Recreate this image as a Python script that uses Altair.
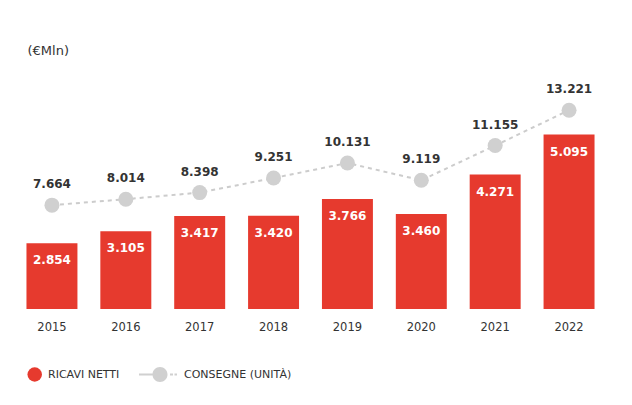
import altair as alt
import pandas as pd

years = ["2015", "2016", "2017", "2018", "2019", "2020", "2021", "2022"]
ricavi = [2854, 3105, 3417, 3420, 3766, 3460, 4271, 5095]
consegne = [7664, 8014, 8398, 9251, 10131, 9119, 11155, 13221]
ricavi_labels = ["2.854", "3.105", "3.417", "3.420", "3.766", "3.460", "4.271", "5.095"]
consegne_labels = ["7.664", "8.014", "8.398", "9.251", "10.131", "9.119", "11.155", "13.221"]
serie = ["RICAVI NETTI", "CONSEGNE (UNITÀ)"]

df = pd.DataFrame({
    "anno": years,
    "ricavi": ricavi,
    "consegne": consegne,
    "lab_r": ricavi_labels,
    "lab_c": consegne_labels,
    "serie_r": [serie[0]] * len(years),
    "serie_c": [serie[1]] * len(years),
})

RED = "#e63a2e"
GRAY = "#d0d0d0"
LINE_GRAY = "#cccccc"
DARK = "#333333"
FONT = "DejaVu Sans"

# legend glyph: solid line, circle, two dashes (filled shapes, unit = symbol radius)
LEG_PATH = ("M-4.571,-0.143H-2.643V0.143H-4.571Z"
            "M-0.143,-0.143H0.286V0.143H-0.143Z"
            "M0.5,-0.143H0.857V0.143H0.5Z"
            "M-2.643,0A1.071,1.071,0,1,1,-0.5,0A1.071,1.071,0,1,1,-2.643,0Z")

x = alt.X(
    "anno:N", sort=years,
    scale=alt.Scale(paddingInner=0.31, paddingOuter=0.25),
    axis=alt.Axis(title=None, labelAngle=0, domain=False, ticks=False, tickSize=0,
                  labelPadding=12, labelFont=FONT, labelFontSize=11.5,
                  labelColor=DARK, grid=False),
)
yb_scale = alt.Scale(domain=[1500, 7705], nice=False, zero=False)
yl_scale = alt.Scale(domain=[1588, 19201], nice=False, zero=False)
base = alt.Chart(df)

bars = base.mark_bar().encode(
    x=x,
    y=alt.Y("ricavi:Q", scale=yb_scale,
            axis=alt.Axis(title="(€Mln)", labels=False, ticks=False, domain=False,
                          grid=False, titleAngle=0, titleX=19, titleY=42,
                          titleAlign="left", titleBaseline="middle", titleFont=FONT,
                          titleFontSize=13, titleFontWeight="normal", titleColor=DARK)),
    y2=alt.datum(1500),
    color=alt.Color(
        "serie_r:N",
        scale=alt.Scale(domain=[serie[0]], range=[RED]),
        legend=alt.Legend(title=None, orient="none", legendX=19.2, legendY=359,
                          symbolType="circle", symbolSize=210, symbolStrokeWidth=0,
                          labelOffset=5.8, labelFont=FONT, labelFontSize=11,
                          labelColor=DARK, padding=0, symbolOpacity=1),
    ),
)

bar_text = base.mark_text(color="white", font=FONT, fontSize=12, fontWeight="bold",
                          baseline="middle", dy=17).encode(
    x=x,
    y=alt.Y("ricavi:Q", scale=yb_scale),
    text="lab_r:N",
)

line = base.mark_line(color=LINE_GRAY, strokeWidth=2, strokeDash=[4, 4]).encode(
    x=x,
    y=alt.Y("consegne:Q", scale=yl_scale, axis=None),
)

points = base.mark_point(filled=True, color=GRAY, size=225).encode(
    x=x,
    y=alt.Y("consegne:Q", scale=yl_scale, axis=None),
    opacity=alt.Opacity(
        "serie_c:N",
        scale=alt.Scale(domain=[serie[1]], range=[1]),
        legend=alt.Legend(title=None, orient="none", legendX=155, legendY=358.5,
                          symbolType=LEG_PATH, symbolSize=196, symbolStrokeWidth=2,
                          symbolFillColor=GRAY, symbolStrokeColor=GRAY,
                          labelOffset=5, labelFont=FONT, labelFontSize=11,
                          labelColor=DARK, padding=0),
    ),
)

pt_text = base.mark_text(color=DARK, font=FONT, fontSize=12, fontWeight="bold",
                         baseline="middle", dy=-21).encode(
    x=x,
    y=alt.Y("consegne:Q", scale=yl_scale),
    text="lab_c:N",
)

chart = (
    alt.layer(alt.layer(bars, bar_text), alt.layer(line, points, pt_text))
    .resolve_scale(y="independent")
    .properties(width=605, height=301, padding=0, background="white")
    .configure_view(stroke=None)
)

chart.save("out.html", embed_options={"renderer": "svg", "actions": False})
